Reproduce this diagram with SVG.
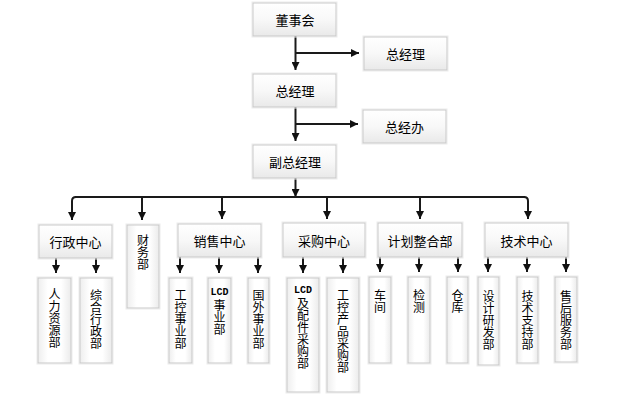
<svg xmlns="http://www.w3.org/2000/svg" width="621" height="400" viewBox="0 0 621 400">
<defs>
<linearGradient id="gh" x1="0" y1="0" x2="0" y2="1">
<stop offset="0" stop-color="#ffffff"/>
<stop offset="0.5" stop-color="#f8f8f8"/>
<stop offset="1" stop-color="#e9e9e9"/>
</linearGradient>
<linearGradient id="gv" x1="0" y1="0" x2="1" y2="0">
<stop offset="0" stop-color="#eeeeee"/>
<stop offset="0.3" stop-color="#ffffff"/>
<stop offset="0.7" stop-color="#ffffff"/>
<stop offset="1" stop-color="#ebebeb"/>
</linearGradient>
<marker id="ah" markerUnits="userSpaceOnUse" markerWidth="8" markerHeight="8" refX="8" refY="4" orient="auto">
<path d="M0,0 L8,4 L0,8 z" fill="#111"/>
</marker>
<style>
.h{fill:url(#gh);stroke:#c9c9c9;stroke-width:1}
.v{fill:url(#gv);stroke:#c9c9c9;stroke-width:1}
.o{fill:none;stroke:#ececec;stroke-width:1}
text{font-family:"Noto Sans CJK SC","Noto Sans",sans-serif;fill:#000;dominant-baseline:central}
.t{font-size:13px;text-anchor:middle}
.c{font-size:12px;text-anchor:middle}
.l{font-family:"Liberation Mono",monospace;font-size:10px;font-weight:bold;text-anchor:middle}
.k{fill:none;stroke:#1a1a1a;stroke-width:2}
.a{fill:none;stroke:#1a1a1a;stroke-width:2;marker-end:url(#ah)}
</style>
</defs>

<g id="connectors">
<line class="a" x1="295.5" y1="36" x2="295.5" y2="70"/>
<line class="a" x1="295.5" y1="53" x2="359" y2="53"/>
<line class="a" x1="295.5" y1="107" x2="295.5" y2="141"/>
<line class="a" x1="295.5" y1="124" x2="358" y2="124"/>
<line class="a" x1="295.5" y1="178" x2="295.5" y2="197"/>
<line class="k" x1="75" y1="197" x2="525" y2="197"/>
<path class="a" d="M76,197 Q72,197 72,201 V220"/>
<path class="a" d="M524,197 Q528,197 528,201 V219"/>
<line class="a" x1="142" y1="197" x2="142" y2="220"/>
<line class="a" x1="222" y1="197" x2="222" y2="219"/>
<line class="a" x1="327" y1="197" x2="327" y2="219"/>
<line class="a" x1="420" y1="197" x2="420" y2="219"/>
<line class="a" x1="56" y1="258" x2="56" y2="273"/>
<line class="a" x1="96" y1="258" x2="96" y2="273"/>
<line class="a" x1="180" y1="257" x2="180" y2="273"/>
<line class="a" x1="219" y1="257" x2="219" y2="273"/>
<line class="a" x1="258" y1="257" x2="258" y2="273"/>
<line class="a" x1="303" y1="257" x2="303" y2="273"/>
<line class="a" x1="343" y1="257" x2="343" y2="273"/>
<line class="a" x1="380" y1="257" x2="380" y2="272"/>
<line class="a" x1="419" y1="257" x2="419" y2="272"/>
<line class="a" x1="458" y1="257" x2="458" y2="272"/>
<line class="a" x1="488" y1="257" x2="488" y2="272"/>
<line class="a" x1="527" y1="257" x2="527" y2="272"/>
<line class="a" x1="566" y1="257" x2="566" y2="272"/>
</g>

<g id="n-dongshihui"><rect class="o" x="252" y="2" width="85" height="35"/><rect class="h" x="253" y="3" width="83" height="33"/><text class="t" x="295" y="19.5">董事会</text></g>
<g id="n-zongjingli-r"><rect class="o" x="363" y="36" width="85" height="35"/><rect class="h" x="364" y="37" width="83" height="33"/><text class="t" x="405.5" y="53.5">总经理</text></g>
<g id="n-zongjingli"><rect class="o" x="252" y="73" width="85" height="35"/><rect class="h" x="253" y="74" width="83" height="33"/><text class="t" x="295" y="90.5">总经理</text></g>
<g id="n-zongjingban"><rect class="o" x="362" y="109" width="85" height="35"/><rect class="h" x="363" y="110" width="83" height="33"/><text class="t" x="404.5" y="126.5">总经办</text></g>
<g id="n-fuzongjingli"><rect class="o" x="252" y="144" width="85" height="35"/><rect class="h" x="253" y="145" width="83" height="33"/><text class="t" x="295" y="161.5">副总经理</text></g>

<g id="n-xingzheng"><rect class="o" x="38" y="224" width="75" height="35"/><rect class="h" x="39" y="225" width="73" height="33"/><text class="t" x="75.5" y="241.5">行政中心</text></g>
<g id="n-caiwu"><rect class="o" x="126" y="224" width="34" height="85"/><rect class="v" x="127" y="225" width="32" height="83"/>
<text class="c" x="143" y="239">财</text><text class="c" x="143" y="251">务</text><text class="c" x="143" y="263">部</text></g>
<g id="n-xiaoshou"><rect class="o" x="177" y="223" width="85" height="35"/><rect class="h" x="178" y="224" width="83" height="33"/><text class="t" x="219.5" y="240.5">销售中心</text></g>
<g id="n-caigou"><rect class="o" x="282" y="222" width="84" height="36"/><rect class="h" x="283" y="223" width="82" height="34"/><text class="t" x="324" y="240">采购中心</text></g>
<g id="n-jihua"><rect class="o" x="377" y="222" width="86" height="36"/><rect class="h" x="378" y="223" width="84" height="34"/><text class="t" x="420" y="240">计划整合部</text></g>
<g id="n-jishu"><rect class="o" x="484" y="222" width="85" height="36"/><rect class="h" x="485" y="223" width="83" height="34"/><text class="t" x="526.5" y="240">技术中心</text></g>

<g id="n-renli"><rect class="o" x="37" y="277" width="35" height="87"/><rect class="v" x="38" y="278" width="33" height="85"/>
<text class="c" x="54.5" y="293">人</text><text class="c" x="54.5" y="305">力</text><text class="c" x="54.5" y="317">资</text><text class="c" x="54.5" y="329">源</text><text class="c" x="54.5" y="341">部</text></g>
<g id="n-zonghe"><rect class="o" x="79" y="277" width="34" height="87"/><rect class="v" x="80" y="278" width="32" height="85"/>
<text class="c" x="96" y="294">综</text><text class="c" x="96" y="306">合</text><text class="c" x="96" y="318">行</text><text class="c" x="96" y="330">政</text><text class="c" x="96" y="342">部</text></g>
<g id="n-gongkong"><rect class="o" x="168" y="277" width="25" height="87"/><rect class="v" x="169" y="278" width="23" height="85"/>
<text class="c" x="180.5" y="294">工</text><text class="c" x="180.5" y="306">控</text><text class="c" x="180.5" y="318">事</text><text class="c" x="180.5" y="330">业</text><text class="c" x="180.5" y="342">部</text></g>
<g id="n-lcd"><rect class="o" x="207" y="277" width="25" height="87"/><rect class="v" x="208" y="278" width="23" height="85"/>
<text class="l" x="219.5" y="292">LCD</text><text class="c" x="219.5" y="304">事</text><text class="c" x="219.5" y="316">业</text><text class="c" x="219.5" y="328">部</text></g>
<g id="n-guowai"><rect class="o" x="247" y="277" width="23" height="87"/><rect class="v" x="248" y="278" width="21" height="85"/>
<text class="c" x="258.5" y="294">国</text><text class="c" x="258.5" y="306">外</text><text class="c" x="258.5" y="318">事</text><text class="c" x="258.5" y="330">业</text><text class="c" x="258.5" y="342">部</text></g>
<g id="n-lcdcaigou"><rect class="o" x="286" y="277" width="34" height="116"/><rect class="v" x="287" y="278" width="32" height="114"/>
<text class="l" x="303" y="290">LCD</text><text class="c" x="303" y="302">及</text><text class="c" x="303" y="314">配</text><text class="c" x="303" y="326">件</text><text class="c" x="303" y="338">采</text><text class="c" x="303" y="350">购</text><text class="c" x="303" y="362">部</text></g>
<g id="n-gkcaigou"><rect class="o" x="326" y="277" width="34" height="116"/><rect class="v" x="327" y="278" width="32" height="114"/>
<text class="c" x="343" y="294">工</text><text class="c" x="343" y="306">控</text><text class="c" x="343" y="318">产</text><text class="c" x="343" y="330">品</text><text class="c" x="343" y="342">采</text><text class="c" x="343" y="354">购</text><text class="c" x="343" y="366">部</text></g>
<g id="n-chejian"><rect class="o" x="368" y="276" width="24" height="88"/><rect class="v" x="369" y="277" width="22" height="86"/>
<text class="c" x="380" y="294">车</text><text class="c" x="380" y="306">间</text></g>
<g id="n-jiance"><rect class="o" x="407" y="276" width="24" height="88"/><rect class="v" x="408" y="277" width="22" height="86"/>
<text class="c" x="419" y="294">检</text><text class="c" x="419" y="306">测</text></g>
<g id="n-cangku"><rect class="o" x="446" y="276" width="23" height="88"/><rect class="v" x="447" y="277" width="21" height="86"/>
<text class="c" x="457.5" y="294">仓</text><text class="c" x="457.5" y="306">库</text></g>
<g id="n-sheji"><rect class="o" x="477" y="276" width="23" height="90"/><rect class="v" x="478" y="277" width="21" height="88"/>
<text class="c" x="488.5" y="295">设</text><text class="c" x="488.5" y="307">计</text><text class="c" x="488.5" y="319">研</text><text class="c" x="488.5" y="331">发</text><text class="c" x="488.5" y="343">部</text></g>
<g id="n-jishuzhichi"><rect class="o" x="516" y="276" width="23" height="88"/><rect class="v" x="517" y="277" width="21" height="86"/>
<text class="c" x="527.5" y="295">技</text><text class="c" x="527.5" y="307">术</text><text class="c" x="527.5" y="319">支</text><text class="c" x="527.5" y="331">持</text><text class="c" x="527.5" y="343">部</text></g>
<g id="n-shouhou"><rect class="o" x="554" y="276" width="24" height="87"/><rect class="v" x="555" y="277" width="22" height="85"/>
<text class="c" x="566" y="295">售</text><text class="c" x="566" y="307">后</text><text class="c" x="566" y="319">服</text><text class="c" x="566" y="331">务</text><text class="c" x="566" y="343">部</text></g>
</svg>
